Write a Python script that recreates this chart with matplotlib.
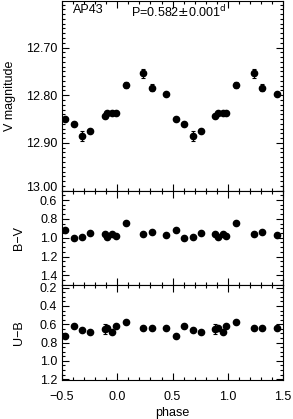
import numpy as np
import matplotlib
matplotlib.use('Agg')
import matplotlib.pyplot as plt
import matplotlib.transforms as mtransforms
from matplotlib.ticker import MultipleLocator

plt.rcParams['font.family'] = ['Liberation Sans', 'DejaVu Sans']

# phases in [-0.5, 0.5), plotted again at phase+1
phase = np.array([-0.47, -0.394, -0.319, -0.244, -0.114, -0.093,
                  -0.045, -0.014, 0.076, 0.236, 0.312, 0.441])
vmag = np.array([12.850, 12.860, 12.885, 12.874, 12.844, 12.838,
                 12.838, 12.838, 12.779, 12.754, 12.784, 12.798])
vmag_err = np.array([0.004, 0.004, 0.011, 0.003, 0.004, 0.003,
                     0.004, 0.004, 0.006, 0.009, 0.008, 0.002])
bv = np.array([0.92, 1.007, 0.997, 0.947, 0.965, 0.99,
               0.965, 0.976, 0.846, 0.962, 0.94, 0.972])
ub = np.array([0.726, 0.623, 0.663, 0.689, 0.652, 0.641,
               0.685, 0.623, 0.579, 0.645, 0.645, 0.645])
ub_err = np.array([0.01, 0.01, 0.01, 0.01, 0.05, 0.01,
                   0.01, 0.01, 0.01, 0.01, 0.01, 0.01])

ph2 = np.concatenate([phase, phase + 1])

fig = plt.figure(figsize=(2.93, 4.19), dpi=100)
left, width = 0.212, 0.754
ax1 = fig.add_axes([left, 0.545, width, 0.453])
ax2 = fig.add_axes([left, 0.320, width, 0.225])
ax3 = fig.add_axes([left, 0.093, width, 0.227])

def style(ax):
    ax.tick_params(which='both', direction='in', top=True, right=True,
                   labelsize=9, width=0.8)
    ax.tick_params(which='major', length=5)
    ax.tick_params(which='minor', length=2.5)
    ax.tick_params(axis='x', which='major', pad=8)
    ax.set_xlim(-0.5, 1.5)
    ax.xaxis.set_major_locator(MultipleLocator(0.5))
    ax.xaxis.set_minor_locator(MultipleLocator(0.1))
    for s in ax.spines.values():
        s.set_linewidth(0.8)

kw = dict(fmt='o', color='black', ms=4.5, capsize=1.2, elinewidth=0.8, capthick=0.8)

ax1.errorbar(ph2, np.tile(vmag, 2), yerr=np.tile(vmag_err, 2), **kw)
style(ax1)
ax1.set_ylim(13.0, 12.602)
ax1.yaxis.set_minor_locator(MultipleLocator(0.01))
ax1.set_yticks([12.7, 12.8, 12.9, 13.0])
ax1.set_yticklabels(['12.70', '12.80', '12.90', '13.00'])
ax1.tick_params(labelbottom=False)
ax1.set_ylabel('V magnitude', fontsize=9)
ax1.text(0.05, 0.985, 'AP43', transform=ax1.transAxes, fontsize=9, va='top')
ax1.text(0.31, 0.985, r'P=0.582$\pm$0.001$^{\mathrm{d}}$', transform=ax1.transAxes,
         fontsize=9, va='top')
# lift the lowest label a little, as in the original
lab = ax1.get_yticklabels()[-1]
lab.set_transform(lab.get_transform() +
                  mtransforms.ScaledTranslation(0, 4 / 100, fig.dpi_scale_trans))

ax2.errorbar(ph2, np.tile(bv, 2), yerr=0.005, **kw)
style(ax2)
ax2.set_ylim(1.5, 0.5)
ax2.set_yticks([0.6, 0.8, 1.0, 1.2, 1.4])
ax2.set_yticklabels(['0.6', '0.8', '1.0', '1.2', '1.4'])
ax2.yaxis.set_minor_locator(MultipleLocator(0.05))
ax2.tick_params(labelbottom=False)
ax2.set_ylabel('B\u2212V', fontsize=9)

ax3.errorbar(ph2, np.tile(ub, 2), yerr=np.tile(ub_err, 2), **kw)
style(ax3)
ax3.set_ylim(1.21, 0.17)
ax3.set_yticks([0.2, 0.4, 0.6, 0.8, 1.0, 1.2])
ax3.set_yticklabels(['0.2', '0.4', '0.6', '0.8', '1.0', '1.2'])
ax3.yaxis.set_minor_locator(MultipleLocator(0.05))
ax3.set_xticks([-0.5, 0.0, 0.5, 1.0, 1.5])
ax3.set_xticklabels(['\u22120.5', '0.0', '0.5', '1.0', '1.5'])
ax3.set_ylabel('U\u2212B', fontsize=9)
ax3.set_xlabel('phase', fontsize=9, labelpad=3)

ax1.yaxis.set_label_coords(-0.21, 0.5)
ax2.yaxis.set_label_coords(-0.167, 0.5)
ax3.yaxis.set_label_coords(-0.167, 0.5)

fig.savefig('out.png', dpi=100)
